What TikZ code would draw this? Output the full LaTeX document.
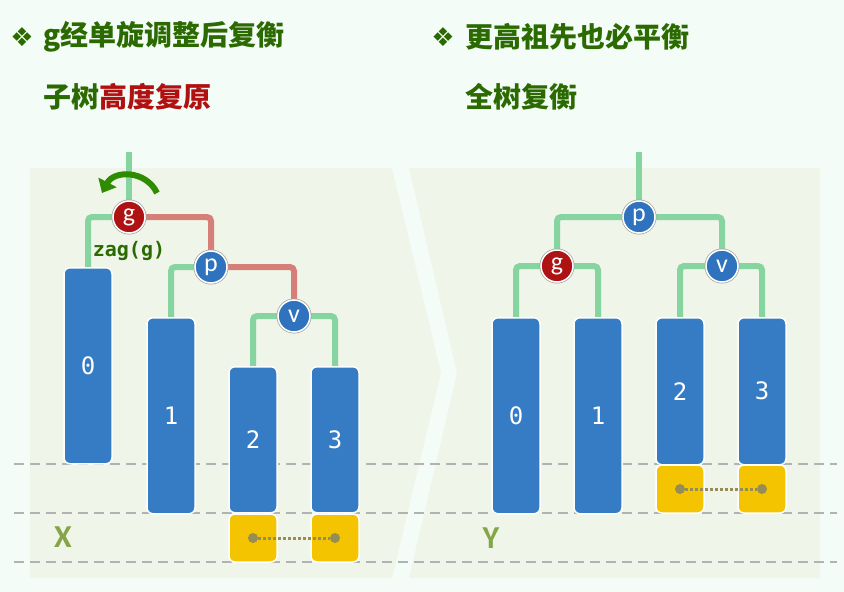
\documentclass[tikz,border=0pt]{standalone}
\usepackage{fontspec}
\usepackage{tikz}
\usetikzlibrary{arrows.meta}

\newfontfamily\cjkfont{Noto Sans CJK SC}
\newfontfamily\symfont{DejaVu Sans}
\newfontfamily\monofont{DejaVu Sans Mono}
\newfontfamily\calfont{Carlito}

\definecolor{bgmint}{HTML}{F4FCF7}
\definecolor{panel}{HTML}{F0F5EA}
\definecolor{headgreen}{HTML}{2B6A00}
\definecolor{headred}{HTML}{B01010}
\definecolor{nblue}{HTML}{2F72BE}
\definecolor{nred}{HTML}{AE1212}
\definecolor{bblue}{HTML}{357CC5}
\definecolor{yel}{HTML}{F5C400}
\definecolor{dotc}{HTML}{968C55}
\definecolor{lgreen}{HTML}{86D5A0}
\definecolor{lred}{HTML}{D57F78}
\definecolor{rotgreen}{HTML}{2F8C00}
\definecolor{olive}{HTML}{84A648}

\pgfdeclarelayer{bg}
\pgfdeclarelayer{edges}
\pgfsetlayers{bg,edges,main}

\tikzset{
	nd/.style={circle, minimum size=32pt, inner sep=0pt, draw=white, line width=1.5pt,
		preaction={draw=black!35, line width=3pt}, text=white,
		font=\calfont\fontsize{26}{26}\selectfont},
	bnd/.style={nd, fill=nblue},
	rnd/.style={nd, fill=nred},
	blk/.style={rectangle, rounded corners=6pt, fill=bblue, draw=white, line width=1.5pt,
		minimum width=48pt, anchor=north, text=white, font=\monofont\fontsize{24}{24}\selectfont},
	ybox/.style={rectangle, rounded corners=6pt, fill=yel, draw=white, line width=1.5pt,
		minimum width=48pt, minimum height=48pt},
	bead/.style={circle, fill=dotc, minimum size=10pt, inner sep=0pt},
	gline/.style={draw=lgreen, line width=6pt, rounded corners=4pt},
	rline/.style={draw=lred, line width=6pt, rounded corners=4pt},
	levline/.style={draw=black!30, line width=1.5pt, dash pattern=on 10pt off 6pt},
	head/.style={anchor=west, inner sep=0pt, text=headgreen, font=\cjkfont\bfseries\fontsize{28}{28}\selectfont},
	bullet/.style={inner sep=0pt, text=headgreen, font=\symfont\fontsize{26}{26}\selectfont},
	hname/.style={text=olive, font=\calfont\bfseries\fontsize{32}{32}\selectfont}
}

\begin{document}
\begin{tikzpicture}[x=1pt,y=-1pt]
	\useasboundingbox (0,0) rectangle (844,592);

	%Headings
	\node[bullet] (b1) at (22,37) {❖};
	\node[head] (h1) at (43,37) {g经单旋调整后复衡};
	\node[head] (h2) at (43,97) {子树\textcolor{headred}{高度复原}};
	\node[bullet] (b2) at (443,37) {❖};
	\node[head] (h3) at (465,37) {更高祖先也必平衡};
	\node[head] (h4) at (465,97) {全树复衡};

	%Panels and levels
	\begin{pgfonlayer}{bg}
		\fill[bgmint] (0,0) rectangle (844,592);
		\fill[panel] (30,168) -- (392,168) -- (441,373) -- (392,578) -- (30,578) -- cycle;
		\fill[panel] (409,168) -- (820,168) -- (820,578) -- (409,578) -- (457,373) -- cycle;
		\foreach \y in {464,513,562}
			\draw[levline] (14,\y) -- (837,\y);
	\end{pgfonlayer}

	%Left tree
	\coordinate (ltop) at (129,152);
	\node[rnd] (lg) at (129,217) {g};
	\node[bnd] (lp) at (211,267) {p};
	\node[bnd] (lv) at (294,316) {v};
	\node[blk, minimum height=196pt] (l0) at (88,267) {0};
	\node[blk, minimum height=196pt] (l1) at (171,317) {1};
	\node[blk, minimum height=146pt] (l2) at (253,366) {2};
	\node[blk, minimum height=146pt] (l3) at (335,366) {3};
	\node[ybox] (ly2) at (253,538) {};
	\node[ybox] (ly3) at (335,538) {};
	\node[bead] (ld2) at (ly2.center) {};
	\node[bead] (ld3) at (ly3.center) {};
	\draw[dotc, line width=3pt, dotted] (ld2) -- (ld3);
	\node[text=headgreen, font=\monofont\bfseries\fontsize{20}{20}\selectfont] (zag) at (129,251) {zag(g)};
	\node[hname] (xl) at (63,537) {X};

	\begin{pgfonlayer}{edges}
		\draw[gline] (ltop) -- (lg);
		\draw[gline] (lg) -| (l0.north);
		\draw[rline] (lg) -| (lp);
		\draw[gline] (lp) -| (l1.north);
		\draw[rline] (lp) -| (lv);
		\draw[gline] (lv) -| (l2.north);
		\draw[gline] (lv) -| (l3.north);
	\end{pgfonlayer}

	%Rotation
	\draw[rotgreen, line width=6pt, -{Triangle[length=12pt,width=20pt]}]
		(157,193) .. controls (146,170) and (114,170) .. (102,193);

	%Right tree
	\coordinate (rtop) at (639,152);
	\node[bnd] (rp) at (639,217) {p};
	\node[rnd] (rg) at (557,266) {g};
	\node[bnd] (rv) at (722,266) {v};
	\node[blk, minimum height=196pt] (r0) at (516,317) {0};
	\node[blk, minimum height=196pt] (r1) at (598,317) {1};
	\node[blk, minimum height=147pt] (r2) at (680,317) {2};
	\node[blk, minimum height=147pt] (r3) at (762,317) {3};
	\node[ybox] (ry2) at (680,489) {};
	\node[ybox] (ry3) at (762,489) {};
	\node[bead] (rd2) at (ry2.center) {};
	\node[bead] (rd3) at (ry3.center) {};
	\draw[dotc, line width=3pt, dotted] (rd2) -- (rd3);
	\node[hname] (yl) at (491,538) {Y};

	\begin{pgfonlayer}{edges}
		\draw[gline] (rtop) -- (rp);
		\draw[gline] (rp) -| (rg);
		\draw[gline] (rp) -| (rv);
		\draw[gline] (rg) -| (r0.north);
		\draw[gline] (rg) -| (r1.north);
		\draw[gline] (rv) -| (r2.north);
		\draw[gline] (rv) -| (r3.north);
	\end{pgfonlayer}
\end{tikzpicture}
\end{document}
